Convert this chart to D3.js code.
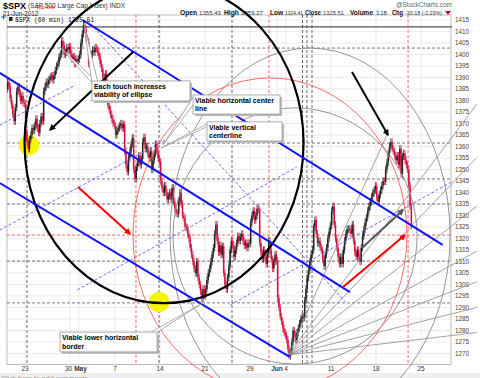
<!DOCTYPE html>
<html>
<head>
<meta charset="utf-8">
<script src="https://cdn.jsdelivr.net/npm/d3@7"></script>
<style>
  body { margin: 0; background: #fff; }
  svg { display: block; font-family: "Liberation Sans", Arial, sans-serif; }
</style>
</head>
<body>
<svg id="chart" width="480" height="378"></svg>
<script>
// --- trading days shown (60 min bars, 7 per day)
const tradingDays = ["Apr 19","Apr 20","Apr 23","Apr 24","Apr 25","Apr 26","Apr 27","Apr 30",
  "May 1","May 2","May 3","May 4","May 7","May 8","May 9","May 10","May 11","May 14","May 15",
  "May 16","May 17","May 18","May 21","May 22","May 23","May 24","May 25","May 29","May 30",
  "May 31","Jun 1","Jun 4","Jun 5","Jun 6","Jun 7","Jun 8","Jun 11","Jun 12","Jun 13","Jun 14",
  "Jun 15","Jun 18","Jun 19","Jun 20","Jun 21"];

// hourly closes, one row per trading day
const firstOpen = 1385;
const hourlyCloses = [
  [1388,1386,1381,1378,1374,1371,1377],
  [1384,1386,1383,1380,1382,1379,1378.5],
  [1366,1362,1359,1363,1365,1368,1367],
  [1369,1372,1368,1366,1370,1373,1371],
  [1384,1386,1388,1387,1389,1390,1390.7],
  [1389,1391,1393,1395,1396,1399,1400],
  [1406,1404,1400,1401,1403,1402,1403.4],
  [1400,1398,1399,1396,1398,1397,1398],
  [1400,1405,1409,1413,1411,1407,1405.8],
  [1396,1398,1400,1402,1401,1403,1402.3],
  [1401,1399,1396,1394,1390,1388,1391.6],
  [1381,1378,1376,1374,1372,1370,1369.1],
  [1365,1367,1368,1369,1370,1368,1369.6],
  [1358,1352,1349,1355,1358,1361,1363.7],
  [1350,1346,1351,1353,1356,1352,1354.6],
  [1362,1364,1359,1360,1357,1355,1358],
  [1350,1354,1357,1361,1358,1355,1353.4],
  [1345,1342,1340,1343,1340,1337,1338.4],
  [1340,1337,1342,1336,1333,1331,1330.7],
  [1336,1340,1335,1330,1329,1325,1324.8],
  [1322,1320,1316,1313,1310,1307,1305],
  [1310,1303,1300,1297,1294,1298,1295.2],
  [1298,1302,1305,1307,1310,1313,1316],
  [1322,1326,1319,1314,1317,1313,1316.6],
  [1305,1300,1298,1303,1308,1315,1318.9],
  [1317,1312,1315,1318,1321,1319,1320.7],
  [1322,1319,1317,1318,1316,1318,1317.8],
  [1327,1330,1332,1328,1330,1333,1332.4],
  [1318,1314,1311,1315,1312,1309,1313.3],
  [1319,1315,1311,1307,1310,1313,1310.3],
  [1294,1290,1286,1284,1281,1279,1278],
  [1276,1272,1269,1271,1275,1280,1278.2],
  [1276,1279,1281,1283,1285,1286,1285.5],
  [1293,1298,1303,1306,1310,1313,1315.1],
  [1325,1328,1322,1318,1319,1316,1315],
  [1311,1308,1313,1316,1320,1323,1325.7],
  [1332,1334,1326,1320,1316,1312,1309],
  [1312,1309,1315,1319,1322,1324,1324.2],
  [1324,1322,1326,1319,1314,1312,1315],
  [1312,1310,1316,1321,1324,1327,1329.1],
  [1332,1334,1336,1338,1340,1341,1342.8],
  [1338,1336,1339,1341,1343,1345,1344.8],
  [1350,1353,1357,1360,1362,1359,1358],
  [1356,1354,1356,1352,1359,1348,1355.7],
  [1357,1354,1352,1350,1343,1334,1325.5]
];

// axis labels
const priceTicks = [1270,1275,1280,1285,1290,1295,1300,1305,1310,1315,1320,1325,1330,1335,1340,
  1345,1350,1355,1360,1365,1370,1375,1380,1385,1390,1395,1400,1405,1410,1415];
const dateTickDays = [2, 7, 8, 12, 17, 22, 27, 30, 31, 36, 41, 46];
const dateTickText = ["23","30","May","7","14","21","29","Jun","4","11","18","25"];
const dateTickBold = [false,false,true,false,false,false,false,true,false,false,false,false];

// quote line: label, is-label, x start, width
const quoteItems = [
  ["Open", true, 180, 17], ["1355.43", false, 199, 22], ["High", true, 224, 15], ["1359.27", false, 241, 22],
  ["Low", true, 270, 13], ["1324.41", false, 285, 18], ["Close", true, 305, 16], ["1325.51", false, 323, 21],
  ["Volume", true, 350, 23], ["3.1B", false, 376, 11], ["Chg", true, 392, 11], ["-30.18 (-2.23%)", false, 405, 37]
];

// --- annotations, in (trading day, price)
const topLinePrice = 1412;
const dashedLevels = [1402.8, 1361.5, 1345.9, 1335, 1310.2, 1292];
const redLevels = [1321.5];
const dashedDays = [2.22, 16.89, 25, 32.83, 33.33, 33.89];
const redDays = [14.33, 29.11, 44.56];

const thickBlue = [
  [[-0.8, 1392], [38.1, 1296.7]],
  [[-0.8, 1344.1], [31.4, 1268.5]],
  [[8.4, 1415], [48.4, 1317.2]]
];
const dashedBlue = [
  [[-0.8, 1369.3], [7.6, 1386.7]],
  [[-0.8, 1323.7], [17.6, 1362.8]],
  [[7.8, 1297.6], [32.2, 1351.1]],
  [[24.8, 1291.1], [49.4, 1344.6]],
  [[8.9, 1415], [37.6, 1292.4]]
];
const fanOrigin = [31.22, 1269.35];
const fanEnds = [[42.3, 1365.9], [52.2, 1378.4], [52.2, 1355.2], [52.2, 1334.1],
  [52.2, 1314.5], [52.2, 1301.2], [52.2, 1290], [52.2, 1279.1]];

// ellipses: centre day, centre price, radius in days, radius in points
const ellipses = [
  { cd: 33.67, cp: 1321.5, rd: 15.56, rp: 81.3, color: "#8a8a8a", w: 0.9 },
  { cd: 32.0, cp: 1321.1, rd: 13.56, rp: 55.7, color: "#8a8a8a", w: 0.9 },
  { cd: 29.22, cp: 1321.5, rd: 15.22, rp: 68.3, color: "#ff5a5a", w: 0.9 },
  { cd: 17.45, cp: 1361.5, rd: 15.5, rp: 69.6, color: "#000", w: 2.2 }
];
const yellowDots = [[2.44, 1360.65], [16.89, 1292.4]];

const arrows = [
  { from: [14, 1401.1], to: [4.78, 1367.2], color: "#000" },
  { from: [38.33, 1392.4], to: [42.33, 1365], color: "#000" },
  { from: [7.89, 1342.4], to: [13.67, 1322], color: "#ff0000" },
  { from: [37.33, 1298.9], to: [44.22, 1321.5], color: "#ff0000" },
  { from: [39.44, 1315.9], to: [44, 1332.4], color: "#555" }
];

const callouts = [
  { lines: ["Each touch increases", "viability of ellipse"], box: [9.44, 1388.5, 20.33, 1379.8],
    tips: [[5.89, 1403.3], [8.56, 1413.3]] },
  { lines: ["Viable horizontal center", "line"], box: [20.67, 1382.4, 30.33, 1374.1],
    tips: [[17.33, 1360.7]] },
  { lines: ["Viable vertical", "centerline"], box: [22.22, 1370.7, 30.56, 1362.4],
    tips: [[17.11, 1359.3]] },
  { lines: ["Viable lower horizontal", "border"], box: [5.89, 1279.3, 16.67, 1270.7],
    tips: [[21.78, 1292]], right: true }
];

// --- scales
const plotL = 7, plotR = 451, plotT = 15, plotB = 364.5;
const x = d3.scaleLinear().domain([0, 49.33]).range([plotL, plotR]);
const y = d3.scaleLinear().domain([1270, 1415]).range([353.5, 20]);

const svg = d3.select("#chart");
svg.append("defs").call(defs => {
  ["#000", "#ff0000", "#555"].forEach((c, i) => {
    defs.append("marker").attr("id", "ah" + i)
      .attr("viewBox", "0 0 10 10").attr("refX", 8).attr("refY", 5)
      .attr("markerWidth", 3.2).attr("markerHeight", 3.2).attr("orient", "auto")
      .append("path").attr("d", "M0,0L10,5L0,10z").attr("fill", c);
  });
  defs.append("clipPath").attr("id", "plotclip").append("rect")
    .attr("x", plotL).attr("y", plotT).attr("width", plotR - plotL).attr("height", plotB - plotT);
});
const markerFor = { "#000": "url(#ah0)", "#ff0000": "url(#ah1)", "#555": "url(#ah2)" };

// bottom comment strip
svg.append("rect").attr("x", 0).attr("y", 373).attr("width", 480).attr("height", 5).attr("fill", "#eeeeee");
svg.append("text").attr("x", 1).attr("y", 381).attr("font-size", 7).attr("fill", "#999")
  .text("Click here to add comments");

// plot frame
svg.append("rect").attr("x", plotL).attr("y", plotT).attr("width", plotR - plotL).attr("height", plotB - plotT)
  .attr("fill", "#fff").attr("stroke", "#aaa").attr("stroke-width", 0.8);

// light grid
svg.append("g").selectAll("line").data(priceTicks).join("line")
  .attr("x1", plotL).attr("x2", plotR).attr("y1", d => y(d)).attr("y2", d => y(d))
  .attr("stroke", "#e6e6e6").attr("stroke-width", 0.8);
svg.append("g").selectAll("line").data(dateTickDays.filter(d => x(d) < plotR)).join("line")
  .attr("x1", d => x(d)).attr("x2", d => x(d)).attr("y1", plotT).attr("y2", plotB)
  .attr("stroke", "#e6e6e6").attr("stroke-width", 0.8);

// right price axis
svg.append("g").selectAll("text").data(priceTicks).join("text")
  .attr("x", plotR + 4).attr("y", d => y(d) + 2.3).attr("font-size", 6.3).attr("fill", "#444")
  .text(d => d);
// bottom date axis
svg.append("g").selectAll("text").data(dateTickDays).join("text")
  .attr("x", (d, i) => x(d) + (dateTickText[i] === "30" ? -1.5 : dateTickText[i] === "May" ? 1.5 : 0))
  .attr("y", 371).attr("text-anchor", "middle").attr("font-size", 6.5)
  .attr("font-weight", (d, i) => dateTickBold[i] ? "bold" : "normal").attr("fill", "#333")
  .text((d, i) => dateTickText[i]);

// level lines
svg.append("line").attr("x1", plotL).attr("x2", plotR + 1).attr("y1", y(topLinePrice)).attr("y2", y(topLinePrice))
  .attr("stroke", "#555").attr("stroke-width", 1.3);
svg.append("g").selectAll("line").data(dashedLevels).join("line")
  .attr("x1", plotL).attr("x2", plotR).attr("y1", d => y(d)).attr("y2", d => y(d))
  .attr("stroke", "#555").attr("stroke-width", 0.8).attr("stroke-dasharray", "3,2");
svg.append("g").selectAll("line").data(redLevels).join("line")
  .attr("x1", plotL).attr("x2", plotR).attr("y1", d => y(d)).attr("y2", d => y(d))
  .attr("stroke", "#ff4040").attr("stroke-width", 0.8).attr("stroke-dasharray", "3,2");
svg.append("g").selectAll("line").data(dashedDays).join("line")
  .attr("x1", d => x(d)).attr("x2", d => x(d)).attr("y1", plotT).attr("y2", plotB)
  .attr("stroke", "#444").attr("stroke-width", 0.8).attr("stroke-dasharray", "3,2");
svg.append("g").selectAll("line").data(redDays).join("line")
  .attr("x1", d => x(d)).attr("x2", d => x(d)).attr("y1", plotT).attr("y2", plotB)
  .attr("stroke", "#ff4040").attr("stroke-width", 0.8).attr("stroke-dasharray", "3,2");

// yellow touch markers
svg.append("g").selectAll("circle").data(yellowDots).join("circle")
  .attr("cx", d => x(d[0])).attr("cy", d => y(d[1])).attr("r", d => x(d[0] + 1.15) - x(d[0]))
  .attr("fill", "#f5f500");

// candles
const bars = [];
let prevClose = firstOpen;
hourlyCloses.forEach((day, i) => day.forEach((c, k) => {
  bars.push({ t: i + (k + 0.5) / 7, o: prevClose, c: c });
  prevClose = c;
}));
const wick = 1.6;
const cg = svg.append("g").attr("clip-path", "url(#plotclip)");
bars.forEach(b => {
  const col = b.c >= b.o ? "#222" : "#d4123f";
  const hi = Math.max(b.o, b.c), lo = Math.min(b.o, b.c);
  cg.append("line").attr("x1", x(b.t)).attr("x2", x(b.t))
    .attr("y1", y(hi + wick)).attr("y2", y(lo - wick)).attr("stroke", col).attr("stroke-width", 0.8);
  cg.append("rect").attr("x", x(b.t) - 0.75).attr("width", 1.5)
    .attr("y", y(hi)).attr("height", Math.max(0.8, y(lo) - y(hi))).attr("fill", col);
});

// ellipses / arcs
svg.append("g").selectAll("ellipse").data(ellipses).join("ellipse")
  .attr("cx", d => x(d.cd)).attr("cy", d => y(d.cp))
  .attr("rx", d => x(d.cd + d.rd) - x(d.cd)).attr("ry", d => y(d.cp - d.rp) - y(d.cp))
  .attr("fill", "none").attr("stroke", d => d.color).attr("stroke-width", d => d.w);

// fan lines
svg.append("g").selectAll("line").data(fanEnds).join("line")
  .attr("x1", x(fanOrigin[0])).attr("y1", y(fanOrigin[1]))
  .attr("x2", d => x(d[0])).attr("y2", d => y(d[1]))
  .attr("stroke", "#8a8a8a").attr("stroke-width", 0.8);

// trend lines
svg.append("g").selectAll("line").data(dashedBlue).join("line")
  .attr("x1", d => x(d[0][0])).attr("y1", d => y(d[0][1]))
  .attr("x2", d => x(d[1][0])).attr("y2", d => y(d[1][1]))
  .attr("stroke", "#4a4aff").attr("stroke-width", 0.8).attr("stroke-dasharray", "3,2");
svg.append("g").selectAll("line").data(thickBlue).join("line")
  .attr("x1", d => x(d[0][0])).attr("y1", d => y(d[0][1]))
  .attr("x2", d => x(d[1][0])).attr("y2", d => y(d[1][1]))
  .attr("stroke", "#1010ff").attr("stroke-width", 2);

// arrows
svg.append("g").selectAll("line").data(arrows).join("line")
  .attr("x1", d => x(d.from[0])).attr("y1", d => y(d.from[1]))
  .attr("x2", d => x(d.to[0])).attr("y2", d => y(d.to[1]))
  .attr("stroke", d => d.color).attr("stroke-width", 2)
  .attr("marker-end", d => markerFor[d.color]);

// callouts
callouts.forEach(co => {
  const bx0 = x(co.box[0]), by0 = y(co.box[1]), bx1 = x(co.box[2]), by1 = y(co.box[3]);
  const g = svg.append("g");
  co.tips.forEach(tp => {
    const tx = x(tp[0]), ty = y(tp[1]);
    const ax = co.right ? bx1 - 6 : bx0;
    const ay = co.right ? by0 : by0 + 2;
    g.append("path")
      .attr("d", `M${ax},${ay}L${tx},${ty}L${ax + 6},${ay}`)
      .attr("fill", "#fff").attr("stroke", "#999").attr("stroke-width", 0.8);
  });
  g.append("rect").attr("x", bx0 + 2).attr("y", by0 + 2).attr("width", bx1 - bx0).attr("height", by1 - by0)
    .attr("fill", "#bbb");
  g.append("rect").attr("x", bx0).attr("y", by0).attr("width", bx1 - bx0).attr("height", by1 - by0)
    .attr("fill", "#fff").attr("stroke", "#999").attr("stroke-width", 0.8);
  co.lines.forEach((t, i) => g.append("text").attr("x", bx0 + 2).attr("y", by0 + 8 + i * 8.5)
    .attr("font-size", 7).attr("font-weight", "bold").attr("fill", "#000").text(t));
});

// header
svg.append("text").attr("x", 3).attr("y", 9).attr("font-size", 9).attr("font-weight", "bold").text("$SPX");
svg.append("text").attr("x", 28).attr("y", 8).attr("font-size", 6.5).attr("fill", "#333")
  .text("(S&P 500 Large Cap Index) INDX");
svg.append("text").attr("x", 36).attr("y", 8.5).attr("font-size", 5.5).attr("fill", "#ff0000").text("Top line");
svg.append("text").attr("x", 3).attr("y", 16).attr("font-size", 6.3).attr("fill", "#222").text("21-Jun-2012");
svg.append("text").attr("x", 452).attr("y", 7).attr("text-anchor", "end").attr("font-size", 6.5)
  .attr("fill", "#666").text("@StockCharts.com");
svg.append("g").selectAll("text").data(quoteItems).join("text")
  .attr("x", d => d[2]).attr("y", 14.5).attr("font-size", d => d[1] ? 6.8 : 6)
  .attr("textLength", d => d[3]).attr("lengthAdjust", "spacingAndGlyphs")
  .attr("font-weight", d => d[1] ? "bold" : "normal").attr("fill", d => d[1] ? "#111" : "#333")
  .text(d => d[0]);
svg.append("path").attr("d", "M445,11L451,11L448,15z").attr("fill", "#c00040");
// legend inside plot
svg.append("path").attr("d", "M1,17L6,17M3.5,14.5L3.5,19.5").attr("stroke", "#3355cc").attr("stroke-width", 1);
svg.append("rect").attr("x", 9).attr("y", 17).attr("width", 3.5).attr("height", 4).attr("fill", "#222");
svg.append("text").attr("x", 15).attr("y", 22).attr("font-size", 6.3)
  .attr("font-family", "Liberation Mono, monospace").attr("fill", "#111").text("$SPX (60 min) 1325.51");
</script>
</body>
</html>
